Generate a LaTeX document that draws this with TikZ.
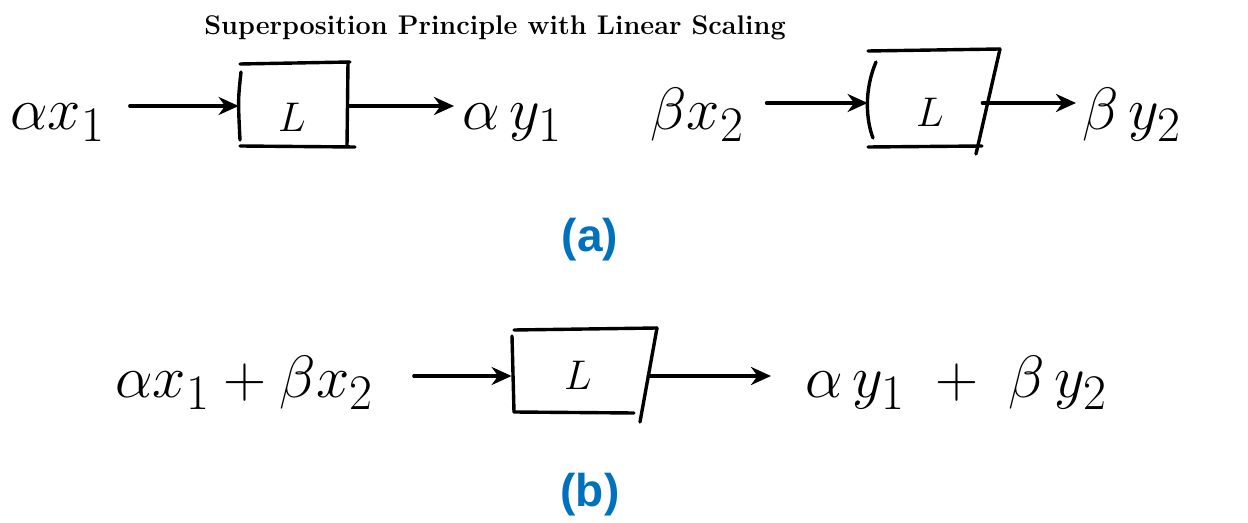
\documentclass[tikz,border=0pt]{standalone}
\usepackage{fontspec}
\newfontfamily\labelfont{Liberation Sans}
\usetikzlibrary{arrows.meta,calc}
\definecolor{labelblue}{RGB}{0,114,189}
\begin{document}
\begin{tikzpicture}[x=0.5pt,y=-0.5pt,
  hand/.style={font=\fontsize{24.88}{30}\selectfont, inner sep=0pt, scale=1.2, transform shape},
  lab/.style={font=\fontsize{20.74}{24}\selectfont, inner sep=0pt},
  sysbox/.style={inner sep=0pt, draw=none},
  stroke/.style={line width=1.7pt, line cap=round},
  arr/.style={line width=1.7pt, line cap=round, -{Stealth[length=10pt,width=9pt]}},
  tag/.style={font=\labelfont\fontsize{23}{28}\selectfont\bfseries, text=labelblue, inner sep=0pt}]
\useasboundingbox (0,0) rectangle (1248,523);

% title
\node[font=\fontsize{13.5}{16}\selectfont\bfseries] (title) at (495,28) {Superposition Principle with Linear Scaling};

% ---------- row (a), left ----------
\node[hand, anchor=base west] (ax1) at (10,130) {$\alpha x_1$};
\node[sysbox, minimum width=55pt, minimum height=42pt] (b1) at (294,106) {};
\node[lab] (L1) at (292,117) {$L$};
\draw[stroke] (240,64) -- (350,62);
\draw[stroke] (348,62) -- (347,146);
\draw[stroke] (241,72) .. controls (238,100) .. (240,140);
\draw[stroke] (240,146) -- (355,147);
\node[hand, anchor=base west] (ay1) at (462,130) {$\alpha\, y_1$};
\draw[arr, shorten <=12pt] (ax1.east |- b1.west) -- (b1.west);
\draw[arr, shorten >=4pt] (b1.east) -- (ay1.west |- b1.east);

% ---------- row (a), right ----------
\node[hand, anchor=base west] (bx2) at (650,130) {$\beta x_2$};
\node[sysbox, minimum width=57pt, minimum height=50pt] (b2) at (925,103) {};
\node[lab] (L2) at (930,112) {$L$};
\draw[stroke] (868,51) -- (1000,49);
\draw[stroke] (1000,49) -- (976,154);
\draw[stroke] (876,62) .. controls (864,90) and (866,120) .. (873,138);
\draw[stroke] (868,147) -- (982,146);
\node[hand, anchor=base west] (by2) at (1082,130) {$\beta\, y_2$};
\draw[arr, shorten <=11pt] (bx2.east |- b2.west) -- (b2.west);
\draw[arr, shorten >=3pt] (b2.east) -- (by2.west |- b2.east);

\node[tag] (taga) at (590,240) {(a)};

% ---------- row (b) ----------
\node[hand, anchor=base west] (in) at (115,398) {$\alpha x_1 + \beta x_2$};
\node[sysbox, minimum width=68pt, minimum height=42.5pt] (b3) at (580,376) {};
\node[lab] (L3) at (578,375) {$L$};
\draw[stroke] (514,330) -- (657,328);
\draw[stroke] (657,328) -- (640,422);
\draw[stroke] (512,336) -- (514,412);
\draw[stroke] (514,412) -- (634,413);
\node[hand, anchor=base west] (out) at (805,398) {$\alpha\, y_1 \;+\; \beta\, y_2$};
\draw[arr, shorten <=20pt] (in.east |- b3.west) -- (b3.west);
\draw[arr, shorten >=17pt] (b3.east) -- (out.west |- b3.east);

\node[tag] (tagb) at (590,495) {(b)};
\end{tikzpicture}
\end{document}
